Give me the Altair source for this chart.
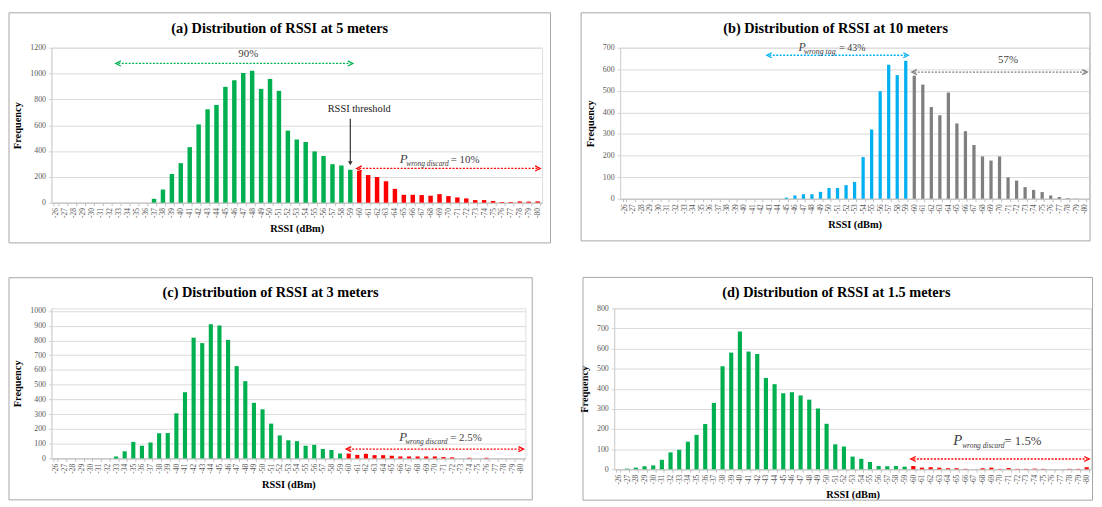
import altair as alt
import pandas as pd

# ---------------- data ----------------
rssi_labels = [str(v) for v in range(-26, -81, -1)]  # -26 ... -80

freq_5m = [0, 0, 0, 0, 0, 0, 0, 0, 0, 0, 0,
           30, 102, 222, 306, 430, 606, 723, 757, 897, 948, 1004, 1022, 881, 958,
           866, 558, 489, 469, 397, 362, 298, 288, 255,
           247, 214, 199, 166, 107, 61, 61, 59, 54, 66, 51, 41, 33, 20, 20, 13, 5, 5, 10, 8, 10]

freq_10m = [0, 0, 0, 0, 0, 0, 0, 0, 0, 0, 0, 0, 0, 0, 0, 0, 0, 0, 0,
            5, 15, 21, 21, 32, 50, 50, 63, 78, 193, 321, 498, 621, 573, 639,
            570, 529, 425, 387, 492, 349, 313, 249, 196, 177, 196, 99, 84, 54, 41, 31, 15, 8, 3, 1, 0]

freq_3m = [0, 0, 0, 0, 0, 0, 0,
           13, 48, 112, 86, 108, 170, 172, 306, 449, 819, 782, 910, 901, 804, 626, 524, 377, 333,
           236, 156, 123, 117, 86, 92, 64, 57, 33,
           33, 24, 31, 22, 22, 18, 13, 13, 13, 13, 13, 9, 7, 0, 4, 0, 4, 0, 0, 0, 0]

freq_1p5m = [0, 3, 8, 15, 19, 47, 84, 97, 137, 171, 225, 330, 512, 580, 685, 585, 573, 454, 423,
             378, 383, 367, 346, 302, 226, 124, 113, 63, 52, 36, 16, 15, 16, 13,
             16, 8, 10, 8, 5, 5, 2, 0, 5, 8, 2, 6, 2, 2, 3, 2, 0, 0, 2, 2, 10]

THRESHOLD = -60

titles = ["(a) Distribution of RSSI at 5 meters", "(b) Distribution of RSSI at 10 meters",
          "(c) Distribution of RSSI at 3 meters", "(d) Distribution of RSSI at 1.5 meters"]

SERIF = "Liberation Serif"
GREEN = "#00B050"
RED = "#FF0000"
BLUE = "#00B0F0"
GRAY = "#7F7F7F"
TXT = "#404040"


class Ctx:
    def __init__(self, xs, ys, xa, ya):
        self.xs, self.ys, self.xa, self.ya = xs, ys, xa, ya

    def X(self, f):
        return alt.X(f, scale=self.xs, axis=self.xa)

    def Y(self, f):
        return alt.Y(f, scale=self.ys, axis=self.ya)


def arrow(cx, x_from, x_to, yv, color):
    d = pd.DataFrame({"a": [x_from], "b": [x_to], "y": [yv]})
    base = alt.Chart(d)
    rule = base.mark_rule(color=color, strokeWidth=1.3, strokeDash=[2, 1.5]).encode(
        x=cx.X("a:O"), x2="b", y=cx.Y("y:Q"))
    left = base.mark_point(shape="M1,-1L-1,0L1,1", size=26, filled=False, color=color,
                           strokeWidth=1.3, opacity=1).encode(x=cx.X("a:O"), y=cx.Y("y:Q"))
    right = base.mark_point(shape="M-1,-1L1,0L-1,1", size=26, filled=False, color=color,
                            strokeWidth=1.3, opacity=1).encode(x=cx.X("b:O"), y=cx.Y("y:Q"))
    return [rule, left, right]


def label(cx, xv, yv, text, dx=0, dy=0, size=11, style="normal", align="center",
          baseline="middle", color=TXT):
    d = pd.DataFrame({"x": [xv], "y": [yv], "t": [text]})
    return alt.Chart(d).mark_text(font=SERIF, fontSize=size, fontStyle=style, align=align,
                                  baseline=baseline, dx=dx, dy=dy, color=color).encode(
        x=cx.X("x:O"), y=cx.Y("y:Q"), text="t:N")


def p_label(cx, xv, yv, sub, rest, dxs, sizes):
    return [
        label(cx, xv, yv, "P", dx=dxs[0], size=sizes[0], style="italic", align="left",
              baseline="alphabetic"),
        label(cx, xv, yv, sub, dx=dxs[1], dy=3, size=sizes[1], style="italic", align="left",
              baseline="alphabetic"),
        label(cx, xv, yv, rest, dx=dxs[2], size=sizes[2], align="left",
              baseline="alphabetic"),
    ]


def threshold_arrow(cx):
    return [
        alt.Chart(pd.DataFrame({"x": ["-59"], "y1": [650], "y2": [310]})).mark_rule(
            color="#333333", strokeWidth=1.2).encode(x=cx.X("x:O"), y=cx.Y("y1:Q"), y2="y2"),
        alt.Chart(pd.DataFrame({"x": ["-59"], "y": [305]})).mark_point(
            shape="triangle-down", size=22, filled=True, color="#333333", opacity=1).encode(
            x=cx.X("x:O"), y=cx.Y("y:Q")),
    ]


def panel(freq, title, ymax, ystep, ydom, width, height, pin, near_c, far_c, frame, extras):
    df = pd.DataFrame({
        "rssi": rssi_labels,
        "freq": freq,
        "col": [near_c if int(v) > THRESHOLD else far_c for v in rssi_labels],
    })
    xs = alt.Scale(domain=rssi_labels, paddingInner=pin, paddingOuter=pin / 2)
    ys = alt.Scale(domain=[0, ydom], nice=False, zero=True)
    xa = alt.Axis(
        title="RSSI (dBm)", labelAngle=270, labelFontSize=7.5, labelFont=SERIF,
        labelColor="#595959", tickBand="extent", tickSize=3, tickColor="#bfbfbf",
        domainColor="#bfbfbf", labelPadding=2, titleFont=SERIF, titleFontSize=10.5,
        titleFontWeight="bold", titleColor="black", titlePadding=6, grid=False)
    ya = alt.Axis(
        title="Frequency", values=list(range(0, ymax + 1, ystep)), format="d", labelFontSize=8,
        labelFont=SERIF, labelColor="#595959", tickSize=3, tickColor="#d0d0d0",
        domainColor="#d0d0d0", gridColor="#d9d9d9", grid=True, labelPadding=3,
        titleFont=SERIF, titleFontSize=10.5, titleFontWeight="bold", titleColor="black",
        titlePadding=7)
    cx = Ctx(xs, ys, xa, ya)
    bars = alt.Chart(df).mark_bar().encode(
        x=cx.X("rssi:O"), y=cx.Y("freq:Q"), color=alt.Color("col:N", scale=None))
    fd = pd.DataFrame({"k": [0]})
    box = alt.Chart(fd).mark_rect(fill="white", fillOpacity=0, stroke="#a6a6a6",
                                  strokeWidth=1).encode(
        x=alt.value(frame[0]), x2=alt.value(frame[1]), y=alt.value(frame[2]),
        y2=alt.value(frame[3]))
    layers = [box, bars]
    for fn in extras:
        layers += fn(cx)
    return alt.layer(*layers).properties(
        width=width, height=height,
        title=alt.TitleParams(text=title, anchor="middle", frame="bounds", offset=-24,
                              font=SERIF, fontSize=14.5, fontWeight="bold", color="black"))


# ---------------- panels ----------------
a = panel(freq_5m, titles[0], 1200, 200, 1200, 497, 157, 0.5, GREEN, RED,
          (-43, 505.5, -35.3, 197.7),
          [
              lambda cx: arrow(cx, "-33", "-59", 1078, GREEN),
              lambda cx: [label(cx, "-48", 1150, "90%", dx=-4, size=11)],
              lambda cx: [label(cx, "-60", 722, "RSSI threshold", size=10.5, color="#222222")],
              threshold_arrow,
              lambda cx: arrow(cx, "-60", "-80", 265, RED),
              lambda cx: p_label(cx, "-64", 305, "wrong discard", "= 10%",
                                 (4.8, 11.5, 56.5), (13, 7.5, 11)),
          ])

b = panel(freq_10m, titles[1], 700, 100, 700, 475, 153, 0.62, BLUE, GRAY,
          (-39.5, 476, -35.3, 195.7),
          [
              lambda cx: arrow(cx, "-43", "-59", 665, BLUE),
              lambda cx: p_label(cx, "-46", 684, "wrong tag", "= 43%",
                                 (3.6, 9, 45), (12, 8, 10)),
              lambda cx: arrow(cx, "-60", "-80", 587, GRAY),
              lambda cx: [label(cx, "-71", 642, "57%", size=11)],
          ])

c = panel(freq_3m, titles[2], 1000, 100, 1018, 480, 152, 0.52, GREEN, RED,
          (-43, 487, -31, 194),
          [
              lambda cx: arrow(cx, "-60", "-80", 63, RED),
              lambda cx: p_label(cx, "-66", 119, "wrong discard", "= 2.5%",
                                 (-1.2, 4.8, 50.5), (13, 7.5, 11)),
          ])

d = panel(freq_1p5m, titles[3], 800, 100, 800, 483, 163, 0.52, GREEN, RED,
          (-31.6, 484.5, -31.3, 194.3),
          [
              lambda cx: arrow(cx, "-60", "-80", 51, RED),
              lambda cx: p_label(cx, "-65", 119, "wrong discard", "= 1.5%",
                                 (-3.4, 5.6, 48.3), (15, 7.5, 13)),
          ])

top = alt.hconcat(a, b, spacing=28)
bottom = alt.hconcat(c, d, spacing=46)
chart = alt.vconcat(top, bottom, spacing=32).properties(padding=0).configure_view(
    strokeWidth=0).configure(background="white")

chart.save("out.html", embed_options={"renderer": "svg", "actions": False})
